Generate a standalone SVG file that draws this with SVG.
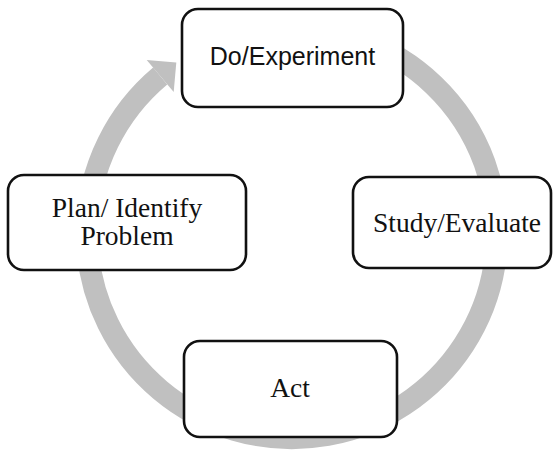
<svg xmlns="http://www.w3.org/2000/svg" width="554" height="452" viewBox="0 0 554 452">
<style>
.box{fill:#fff;stroke:#111;stroke-width:2.6}
.ring{fill:none;stroke:#c0c0c0;stroke-width:22}
.head{fill:#c0c0c0}
.sans{font-family:"Liberation Sans",Arial,sans-serif;font-size:25px;fill:#111;text-anchor:middle}
.serif{font-family:"Liberation Serif","Times New Roman",serif;font-size:27.5px;fill:#111;text-anchor:middle}
</style>
<rect width="554" height="452" fill="#fff"/>
<g id="connectors">
<path class="ring" d="M362 40.4 A205 205 0 1 1 160.2 76"/>
<polygon class="head" points="146.7,59.9 176.3,62.5 173.7,92"/>
</g>
<g id="do">
<rect class="box" x="182" y="9" width="221" height="98" rx="16"/>
<text class="sans" x="292.5" y="65">Do/Experiment</text>
</g>
<g id="plan">
<rect class="box" x="8" y="175" width="238" height="95" rx="16"/>
<text class="serif" x="127" y="216.7">Plan/ Identify</text>
<text class="serif" x="127" y="245">Problem</text>
</g>
<g id="study">
<rect class="box" x="353" y="177" width="198" height="91" rx="16"/>
<text class="serif" x="457" y="231.7">Study/Evaluate</text>
</g>
<g id="act">
<rect class="box" x="184" y="341" width="213" height="96" rx="16"/>
<text class="serif" x="290" y="396.7">Act</text>
</g>
</svg>
